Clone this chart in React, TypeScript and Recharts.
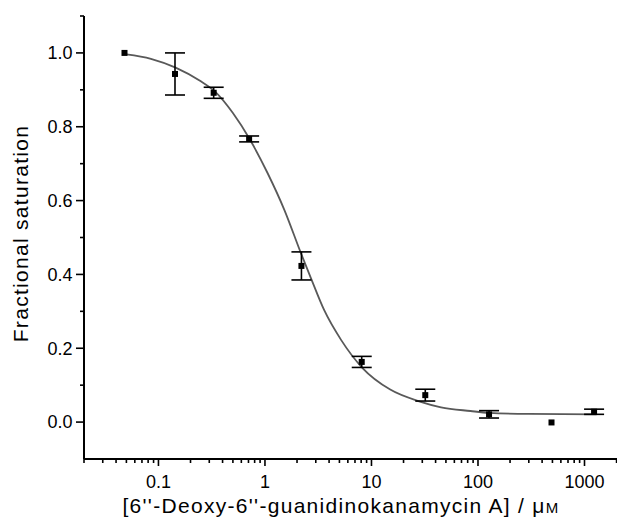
import React from "react";
import { ComposedChart, XAxis, YAxis, Line, Scatter, ErrorBar } from "recharts";

// Measured points: concentration (µM), fractional saturation, error
const concentrations = [0.048, 0.143, 0.33, 0.71, 2.2, 8.1, 32, 127, 490, 1230];
const saturation = [1.0, 0.943, 0.892, 0.767, 0.423, 0.163, 0.073, 0.021, -0.001, 0.028];
const errors = [0, 0.057, 0.015, 0.008, 0.038, 0.015, 0.016, 0.01, 0, 0.007];

// Fitted curve
const curveX = [0.05, 0.085, 0.145, 0.25, 0.34, 0.5, 0.72, 1.06, 1.52, 2.18, 2.7, 3.6, 5.2, 8.2, 15, 29, 45, 85, 127, 300, 1300];
const curveY = [0.996, 0.984, 0.96, 0.923, 0.895, 0.837, 0.766, 0.674, 0.575, 0.457, 0.39, 0.303, 0.222, 0.147, 0.088, 0.055, 0.04, 0.03, 0.025, 0.022, 0.021];

// Ticks
const xMajorTicks = [0.1, 1, 10, 100, 1000];
const xTickLabels = ["0.1", "1", "10", "100", "1000"];
const xMinorTicks = [
  0.02, 0.03, 0.04, 0.05, 0.06, 0.07, 0.08, 0.09,
  0.2, 0.3, 0.4, 0.5, 0.6, 0.7, 0.8, 0.9,
  2, 3, 4, 5, 6, 7, 8, 9,
  20, 30, 40, 50, 60, 70, 80, 90,
  200, 300, 400, 500, 600, 700, 800, 900,
  2000,
];
const yMajorTicks = [0, 0.2, 0.4, 0.6, 0.8, 1.0];
const yTickLabels = ["0.0", "0.2", "0.4", "0.6", "0.8", "1.0"];
const yMinorTicks = [0.1, 0.3, 0.5, 0.7, 0.9, 1.1];

const points = concentrations.map((x, i) => ({ x, y: saturation[i], err: errors[i] }));
const curve = curveX.map((x, i) => ({ x, y: curveY[i] }));

const FONT = "'Liberation Sans', Arial, Helvetica, sans-serif";

const near = (a: number, b: number) => Math.abs(a - b) < 1e-9 * Math.max(1, Math.abs(b));

const XTick = (props: any) => {
  const { x, y, payload } = props;
  const v = payload.value;
  const idx = xMajorTicks.findIndex((t) => near(t, v));
  const major = idx >= 0;
  return (
    <g>
      <line x1={x} x2={x} y1={y} y2={y + (major ? 7 : 4)} stroke="#000" strokeWidth={1.6} />
      {major && (
        <text x={x} y={y + 29} textAnchor="middle" fontSize={18} fontFamily={FONT} fill="#000">
          {xTickLabels[idx]}
        </text>
      )}
    </g>
  );
};

const YTick = (props: any) => {
  const { x, y, payload } = props;
  const v = payload.value;
  const idx = yMajorTicks.findIndex((t) => near(t, v));
  const major = idx >= 0;
  return (
    <g>
      <line x1={x - (major ? 8 : 4)} x2={x} y1={y} y2={y} stroke="#000" strokeWidth={1.6} />
      {major && (
        <text x={x - 11.5} y={y} dy={6.4} textAnchor="end" fontSize={18} fontFamily={FONT} fill="#000">
          {yTickLabels[idx]}
        </text>
      )}
    </g>
  );
};

const XTitle = () => (
  <text
    x={333}
    y={505}
    textAnchor="middle"
    fontSize={21}
    letterSpacing={1.3}
    fontFamily={FONT}
    fill="#000"
  >
    [6''-Deoxy-6''-guanidinokanamycin A] / μ<tspan fontSize={15}>M</tspan>
  </text>
);

const YTitle = () => (
  <text
    x={20.3}
    y={225.5}
    transform="rotate(-90, 20.3, 225.5)"
    textAnchor="middle"
    fontSize={21}
    letterSpacing={1.3}
    fontFamily={FONT}
    fill="#000"
  >
    Fractional saturation
  </text>
);

const SquareDot = (props: any) => {
  const { cx, cy } = props;
  if (cx == null || cy == null) return null;
  return <rect x={cx - 3} y={cy - 3} width={6} height={6} fill="#000" />;
};

export default function App() {
  return (
    <div style={{ width: 617, height: 516, background: "#fff" }}>
      <ComposedChart
        width={617}
        height={516}
        margin={{ top: 8, right: 0, bottom: 0, left: 0 }}
      >
        <XAxis
          dataKey="x"
          type="number"
          scale="log"
          domain={[0.02, 2400]}
          allowDataOverflow
          ticks={[...xMajorTicks, ...xMinorTicks]}
          interval={0}
          tick={<XTick />}
          tickLine={false}
          tickSize={0}
          tickMargin={0}
          axisLine={{ stroke: "#000", strokeWidth: 2 }}
          height={65}
          label={<XTitle />}
        />
        <YAxis
          dataKey="y"
          type="number"
          domain={[-0.1, 1.1]}
          allowDataOverflow
          ticks={[...yMajorTicks, ...yMinorTicks]}
          interval={0}
          tick={<YTick />}
          tickLine={false}
          tickSize={0}
          tickMargin={0}
          axisLine={{ stroke: "#000", strokeWidth: 2 }}
          width={76}
          label={<YTitle />}
        />
        <Line
          data={curve}
          dataKey="y"
          type="monotone"
          stroke="#595959"
          strokeWidth={1.8}
          dot={false}
          activeDot={false}
          isAnimationActive={false}
        />
        <Scatter data={points} dataKey="y" shape={<SquareDot />} isAnimationActive={false}>
          <ErrorBar dataKey="err" direction="y" width={10} stroke="#000" strokeWidth={1.6} />
        </Scatter>
      </ComposedChart>
    </div>
  );
}
